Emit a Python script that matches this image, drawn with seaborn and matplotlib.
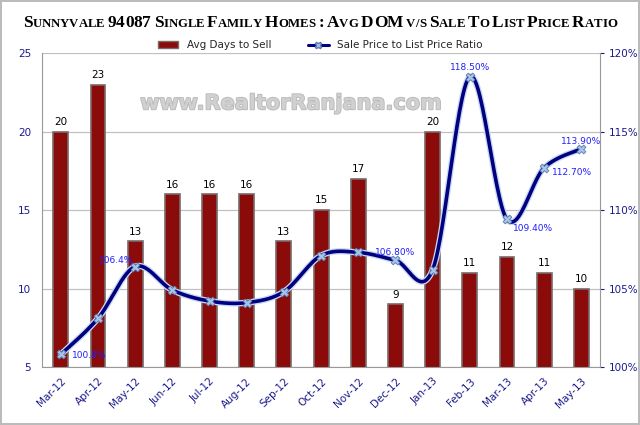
import numpy as np
import pandas as pd
import matplotlib
matplotlib.use("Agg")
import matplotlib.pyplot as plt
import matplotlib.patheffects as pe
from matplotlib.lines import Line2D
from matplotlib.patches import Patch
from matplotlib.ticker import FuncFormatter
import seaborn as sns

# ── data ──────────────────────────────────────────────
months = ["Mar-12", "Apr-12", "May-12", "Jun-12", "Jul-12", "Aug-12", "Sep-12",
          "Oct-12", "Nov-12", "Dec-12", "Jan-13", "Feb-13", "Mar-13", "Apr-13", "May-13"]
days_to_sell = [20, 23, 13, 16, 16, 16, 13, 15, 17, 9, 20, 11, 12, 11, 10]
sale_to_list = [100.8, 103.1, 106.4, 104.9, 104.2, 104.1, 104.8,
                107.1, 107.3, 106.8, 106.2, 118.5, 109.4, 112.7, 113.9]
ratio_labels = {0: "100.8%", 2: "106.4%", 9: "106.80%", 11: "118.50%",
                12: "109.40%", 13: "112.70%", 14: "113.90%"}

title = "Sunnyvale 94087 Single Family Homes : Avg DOM v/s Sale To List Price Ratio"

df = pd.DataFrame({"Month": months, "Days": days_to_sell, "Ratio": sale_to_list})

navy = "#1a1a8c"
bar_red = "#8b0a0a"
line_blue = "#000080"

sns.set_style("white")
fig = plt.figure(figsize=(6.4, 4.25), dpi=100)
fig.patch.set_edgecolor("#bbbbbb")
fig.patch.set_linewidth(1.5)
ax = fig.add_axes([0.066, 0.1365, 0.8715, 0.7385])

# ── bars: avg days to sell ───────────────────────────
sns.barplot(data=df, x="Month", y="Days", color=bar_red, saturation=1,
            width=0.4, edgecolor="#7a6a6a", linewidth=1.2, ax=ax)
ax.set_ylim(5, 25)
ax.set_yticks([5, 10, 15, 20, 25])
ax.yaxis.grid(True, color="#c0c0c0", linewidth=0.9)
ax.set_axisbelow(True)
ax.set_xlabel("")
ax.set_ylabel("")
ax.set_xlim(-0.5, len(months) - 0.5)
for i, v in enumerate(days_to_sell):
    ax.text(i, v + 0.3, str(v), ha="center", va="bottom", fontsize=7.5,
            color="black", family="DejaVu Sans")

ax.tick_params(axis="y", colors=navy, labelsize=7.5, length=0, pad=8)
ax.tick_params(axis="x", colors=navy, labelsize=7.5, length=3)
plt.setp(ax.get_xticklabels(), rotation=45, ha="right", rotation_mode="anchor")
for s in ["top", "right"]:
    ax.spines[s].set_visible(False)
ax.spines["left"].set_color("#999999")
ax.spines["bottom"].set_color("#999999")

# watermark
ax.text(0.446, 0.84, "www.RealtorRanjana.com", transform=ax.transAxes,
        ha="center", va="center", fontsize=15, fontweight="bold",
        family="DejaVu Sans", color="#d0d0d0", zorder=0.5,
        path_effects=[pe.withStroke(linewidth=1.2, foreground="#b8b8b8")])

# ── line: sale price to list price ratio ─────────────
ax2 = ax.twinx()
ax2.set_ylim(100, 120)
ax2.set_yticks([100, 105, 110, 115, 120])
ax2.yaxis.set_major_formatter(FuncFormatter(lambda v, p: f"{v:.0f}%"))
ax2.tick_params(axis="y", colors=navy, labelsize=7.5, length=3)
for s in ["top", "left", "bottom"]:
    ax2.spines[s].set_visible(False)
ax2.spines["right"].set_color("#999999")

# Excel-like smoothed curve (cubic Bezier through the points)
xs = np.arange(len(sale_to_list), dtype=float)
ys = np.array(sale_to_list, dtype=float)
pts = np.column_stack([xs, ys])
curve = []
t = np.linspace(0, 1, 30)[:, None]
for i in range(len(pts) - 1):
    p0 = pts[i - 1] if i > 0 else pts[i]
    p1, p2 = pts[i], pts[i + 1]
    p3 = pts[i + 2] if i + 2 < len(pts) else pts[i + 1]
    c1 = p1 + (p2 - p0) / 6
    c2 = p2 - (p3 - p1) / 6
    seg = ((1 - t) ** 3) * p1 + 3 * ((1 - t) ** 2) * t * c1 + 3 * (1 - t) * t ** 2 * c2 + t ** 3 * p2
    curve.append(seg)
curve = np.vstack(curve)
ax2.plot(curve[:, 0], curve[:, 1], color=line_blue, linewidth=2.6, zorder=3,
         solid_capstyle="round",
         path_effects=[pe.Stroke(linewidth=4.5, foreground="#c8d8f0"), pe.Normal()])
sns.scatterplot(x=xs, y=ys, marker="X", s=40, color="#a8c4e8", edgecolor="#5a7ab0",
                linewidth=0.6, zorder=4, ax=ax2, legend=False)

# data labels (only some points are labelled)
offsets = {0: (0.3, -0.05, "left"), 2: (-0.05, 0.4, "right"), 9: (0.0, 0.5, "center"),
           11: (0.0, 0.6, "center"), 12: (0.15, -0.55, "left"), 13: (0.2, -0.3, "left"),
           14: (0.0, 0.5, "center")}
for i, lab in ratio_labels.items():
    dx, dy, ha = offsets[i]
    ax2.text(i + dx, sale_to_list[i] + dy, lab, ha=ha, va="center", fontsize=6.5,
             color="#2020ff", family="DejaVu Sans", zorder=5)

# ── legend ───────────────────────────────────────────
handles = [Patch(facecolor=bar_red, edgecolor="#7a6a6a", label="Avg Days to Sell"),
           Line2D([0], [0], color=line_blue, linewidth=2.2, marker="X", markersize=5,
                  markerfacecolor="#a8c4e8", markeredgecolor="#5a7ab0",
                  label="Sale Price to List Price Ratio")]
fig.legend(handles=handles, loc="center", bbox_to_anchor=(0.5, 0.893), ncol=2,
           frameon=False, handlelength=2.0, columnspacing=3.5,
           prop={"family": "DejaVu Sans", "size": 7.5})

# ── title in faux small caps ─────────────────────────
renderer = fig.canvas.get_renderer()
fig_w = fig.get_figwidth() * fig.dpi
target_w = 590.0


def place_title(big, small):
    placed = []
    x_px = 0.0
    for ch in title:
        size = big if (ch.isupper() or ch.isdigit() or ch == ":") else small
        tx = fig.text(0, 0.937, ch.upper(), fontsize=size, fontweight="bold",
                      family="Liberation Serif", color="black", va="baseline", ha="left")
        w = tx.get_window_extent(renderer).width
        if ch == " ":
            w = size * 0.3
        placed.append((tx, x_px))
        x_px += w
    return placed, x_px


placed, total = place_title(13.5, 10.0)
scale = target_w / total
for tx, _ in placed:
    tx.remove()
placed, total = place_title(13.5 * scale, 10.0 * scale)
start = (fig_w - total) / 2
for tx, off in placed:
    tx.set_x((start + off) / fig_w)

fig.savefig("out.png", dpi=100)
